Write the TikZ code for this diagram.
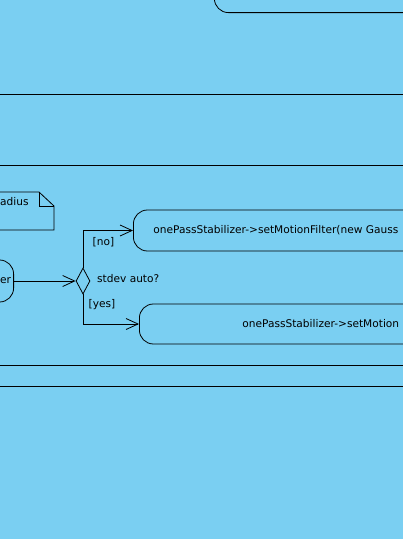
\documentclass[tikz,border=0pt]{standalone}
\usepackage{fontspec}
\setmainfont{DejaVu Sans}
\usetikzlibrary{arrows.meta, positioning, shapes.geometric}
\definecolor{lanebg}{RGB}{122,207,242}
\tikzset{
  action/.style={draw, rounded corners=14pt, line width=0.8pt},
  flow/.style={line width=0.8pt, -{Straight Barb[length=12pt,width=11pt]}},
  lane/.style={line width=0.9pt},
}

\begin{document}
\begin{tikzpicture}[x=1pt, y=1pt, font=\fontsize{10.6}{12}\selectfont]
\fill[lanebg] (0,0) rectangle (403,-539);
\useasboundingbox (0,0) rectangle (403,-539);
\clip (0,0) rectangle (403,-539);
% partition lines
\draw[lane] (0,-94) -- (403,-94);
\draw[lane] (0,-165) -- (403,-165);
\draw[lane] (0,-365) -- (403,-365);
\draw[lane] (0,-386) -- (403,-386);
% previous action
\node[action, minimum width=300pt, minimum height=60pt, anchor=south west] (prevact) at (214,-13) {};
% note
\coordinate (notefold) at (39,-192);
\draw[line width=0.8pt] (-40,-192) -- (notefold) -- (54,-206) -- (54,-230) -- (-40,-230) -- cycle;
\draw[line width=0.8pt] (notefold) -- (39,-206) -- (54,-206);
\node[anchor=west, inner sep=0pt] (notetext) at (0,-202) {adius};
% actions and decision
\node[action, anchor=east, text width=60pt, align=right, inner xsep=2.5pt, minimum height=42pt] (setstdev) at (14,-281) {er};
\node[draw, diamond, line width=0.8pt, minimum width=14pt, minimum height=26pt, inner sep=0pt] (stdevauto) at (83,-281) {};
\node[anchor=west, inner sep=0pt] (stdevlbl) at (97,-279) {stdev auto?};
\node[action, anchor=west, text width=380pt, align=left, inner xsep=20pt, minimum height=41pt] (filterno) at (133,-230.5) {onePassStabilizer->setMotionFilter(new Gauss};
\node[action, anchor=west, text width=300pt, align=left, inner xsep=103pt, minimum height=40pt] (filteryes) at (139,-324) {onePassStabilizer->setMotion};
% flows
\draw[flow] (setstdev.east) -- (stdevauto.west);
\draw[flow] (stdevauto.north) |- (filterno.west) node[pos=0.34, right=6pt] {[no]};
\draw[flow] (stdevauto.south) |- (filteryes.west) node[pos=0.17, right=2pt] {[yes]};
\end{tikzpicture}
\end{document}
